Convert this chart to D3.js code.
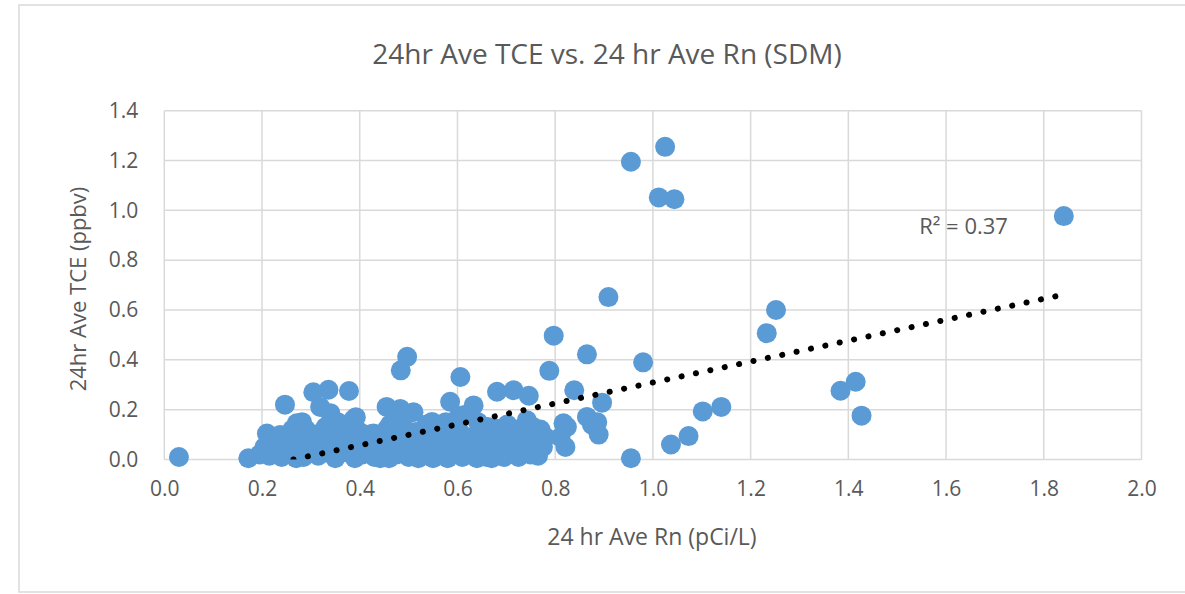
<!DOCTYPE html>
<html>
<head>
<meta charset="utf-8">
<script src="https://cdn.jsdelivr.net/npm/d3@7"></script>
<style>
  body { margin: 0; background: #fff; }
  text { font-family: "Open Sans", sans-serif; fill: #595959; }
</style>
</head>
<body>
<div id="chart"></div>
<script>
// 24 hr ave radon (x) and TCE (y)
var rn = [
  0.03, 0.955, 1.025, 1.012, 1.044, 1.841, 0.909, 0.797, 1.252, 1.233,
  0.865, 0.980, 0.497, 0.484, 0.788, 0.606, 0.839, 0.896, 1.384, 1.415,
  1.427, 1.140, 1.102, 1.073, 1.037, 0.955, 0.247, 0.305, 0.336, 0.378,
  0.319, 0.340, 0.387, 0.271, 0.455, 0.483, 0.510, 0.548, 0.537, 0.585,
  0.633, 0.612, 0.681, 0.715, 0.746, 0.742, 0.763, 0.677, 0.817, 0.821,
  0.811, 0.824, 0.865, 0.875, 0.889, 0.886,
  0.172, 0.195, 0.210, 0.215, 0.225, 0.237, 0.240, 0.255, 0.260, 0.270,
  0.280, 0.290, 0.295, 0.300, 0.310, 0.315, 0.325, 0.330, 0.335, 0.345,
  0.350, 0.355, 0.360, 0.365, 0.370, 0.380, 0.390, 0.395, 0.400, 0.405,
  0.410, 0.415, 0.420, 0.428, 0.430, 0.435, 0.440, 0.450, 0.455, 0.460,
  0.465, 0.470, 0.475, 0.480, 0.485, 0.490, 0.495, 0.500, 0.505, 0.510,
  0.515, 0.520, 0.525, 0.530, 0.540, 0.545, 0.550, 0.555, 0.560, 0.570,
  0.575, 0.580, 0.585, 0.590, 0.600, 0.605, 0.610, 0.615, 0.620, 0.625,
  0.630, 0.635, 0.640, 0.645, 0.650, 0.655, 0.660, 0.665, 0.670, 0.680,
  0.685, 0.690, 0.695, 0.700, 0.705, 0.710, 0.715, 0.720, 0.725, 0.730,
  0.735, 0.740, 0.745, 0.750, 0.755, 0.760, 0.765, 0.770, 0.780,
  0.262, 0.282, 0.392, 0.462, 0.472, 0.576, 0.592, 0.602, 0.642, 0.662,
  0.702, 0.722, 0.232, 0.222, 0.352, 0.372,
  0.205, 0.230, 0.245, 0.265, 0.285, 0.305, 0.320, 0.340, 0.358, 0.375,
  0.385, 0.398, 0.412, 0.425, 0.445, 0.458, 0.468, 0.478, 0.492, 0.503,
  0.518, 0.532, 0.548, 0.562, 0.578, 0.595, 0.608, 0.622, 0.638, 0.652,
  0.668, 0.676, 0.692, 0.708, 0.728, 0.742, 0.758, 0.775, 0.215, 0.285,
  0.442, 0.550, 0.670, 0.750, 0.765
];
var tce = [
  0.010, 1.195, 1.255, 1.052, 1.045, 0.977, 0.652, 0.497, 0.600, 0.507,
  0.422, 0.390, 0.412, 0.358, 0.356, 0.331, 0.278, 0.228, 0.276, 0.312,
  0.176, 0.211, 0.193, 0.094, 0.060, 0.005, 0.220, 0.270, 0.280, 0.275,
  0.211, 0.186, 0.160, 0.145, 0.211, 0.203, 0.190, 0.151, 0.140, 0.232,
  0.217, 0.178, 0.272, 0.278, 0.256, 0.158, 0.118, 0.124, 0.145, 0.050,
  0.090, 0.131, 0.171, 0.140, 0.100, 0.150,
  0.005, 0.020, 0.104, 0.060, 0.030, 0.098, 0.010, 0.070, 0.040, 0.005,
  0.090, 0.120, 0.030, 0.060, 0.100, 0.015, 0.080, 0.130, 0.040, 0.100,
  0.005, 0.150, 0.060, 0.120, 0.030, 0.090, 0.005, 0.050, 0.110, 0.020,
  0.080, 0.040, 0.100, 0.104, 0.010, 0.060, 0.030, 0.090, 0.120, 0.005,
  0.050, 0.075, 0.020, 0.100, 0.040, 0.130, 0.060, 0.010, 0.090, 0.035,
  0.110, 0.005, 0.070, 0.030, 0.090, 0.050, 0.010, 0.075, 0.030, 0.100,
  0.050, 0.005, 0.085, 0.030, 0.060, 0.110, 0.010, 0.040, 0.080, 0.020,
  0.090, 0.050, 0.005, 0.070, 0.030, 0.100, 0.010, 0.060, 0.040, 0.085,
  0.020, 0.065, 0.010, 0.100, 0.040, 0.025, 0.065, 0.080, 0.010, 0.050,
  0.110, 0.030, 0.090, 0.060, 0.130, 0.100, 0.040, 0.120, 0.090,
  0.120, 0.150, 0.170, 0.140, 0.160, 0.150, 0.120, 0.170, 0.150, 0.130,
  0.140, 0.120, 0.070, 0.040, 0.040, 0.070,
  0.050, 0.075, 0.045, 0.090, 0.060, 0.035, 0.050, 0.070, 0.090, 0.060,
  0.120, 0.080, 0.060, 0.040, 0.070, 0.050, 0.100, 0.070, 0.090, 0.050,
  0.060, 0.080, 0.030, 0.060, 0.080, 0.050, 0.080, 0.050, 0.070, 0.060,
  0.090, 0.050, 0.040, 0.080, 0.070, 0.050, 0.070, 0.050, 0.015, 0.010,
  0.005, 0.005, 0.005, 0.020, 0.015
];

var xTicks = [0, 0.2, 0.4, 0.6, 0.8, 1.0, 1.2, 1.4, 1.6, 1.8, 2.0];
var yTicks = [0, 0.2, 0.4, 0.6, 0.8, 1.0, 1.2, 1.4];

// linear trendline
var trendSlope = 0.42;
var trendIntercept = -0.111;
var trendRange = [0.03, 1.83];
var r2Label = "R\u00b2 = 0.37";

var W = 1185, H = 594;
var margin = {top: 110.7, right: 43.5, bottom: 134.5, left: 164.3};
var width = W - margin.left - margin.right,
    height = H - margin.top - margin.bottom;

var svg = d3.select("#chart").append("svg")
    .attr("width", W)
    .attr("height", H);

// chart border
svg.append("rect")
    .attr("x", 19).attr("y", 5)
    .attr("width", W + 10).attr("height", 587)
    .attr("fill", "#fff")
    .attr("stroke", "#d9d9d9")
    .attr("stroke-width", 1.5);

var g = svg.append("g")
    .attr("transform", `translate(${margin.left},${margin.top})`);

var x = d3.scaleLinear().domain([0, 2]).range([0, width]);
var y = d3.scaleLinear().domain([0, 1.4]).range([height, 0]);

// gridlines
g.append("g")
  .selectAll("line")
  .data(xTicks)
  .join("line")
    .attr("x1", d => x(d)).attr("x2", d => x(d))
    .attr("y1", 0).attr("y2", height)
    .attr("stroke", "#d9d9d9")
    .attr("stroke-width", 1.5);

g.append("g")
  .selectAll("line")
  .data(yTicks)
  .join("line")
    .attr("x1", 0).attr("x2", width)
    .attr("y1", d => y(d)).attr("y2", d => y(d))
    .attr("stroke", "#d9d9d9")
    .attr("stroke-width", 1.5);

// axes (labels only)
var xAxis = g.append("g")
    .attr("transform", `translate(0,${height})`)
    .call(d3.axisBottom(x).tickValues(xTicks).tickFormat(d3.format(".1f")).tickSize(0).tickPadding(22));
var yAxis = g.append("g")
    .call(d3.axisLeft(y).tickValues(yTicks).tickFormat(d3.format(".1f")).tickSize(0).tickPadding(26));
[xAxis, yAxis].forEach(function(a) {
  a.select(".domain").remove();
  a.selectAll("text")
    .attr("font-size", 21)
    .attr("font-family", "Open Sans, sans-serif")
    .attr("fill", "#595959");
});

// points
var pts = rn.map(function(d, i) { return {x: d, y: tce[i]}; });
g.append("g")
  .selectAll("circle")
  .data(pts)
  .join("circle")
    .attr("cx", d => x(d.x))
    .attr("cy", d => y(d.y))
    .attr("r", 10)
    .attr("fill", "#5b9bd5");

// dotted trendline, clipped to the plot area
svg.append("clipPath").attr("id", "plotclip")
  .append("rect")
    .attr("x", 0).attr("y", 0)
    .attr("width", width).attr("height", height);

var x0 = Math.max(trendRange[0], -trendIntercept / trendSlope);
g.append("path")
    .datum([x0, trendRange[1]])
    .attr("clip-path", "url(#plotclip)")
    .attr("d", d3.line()
      .x(d => x(d))
      .y(d => y(trendSlope * d + trendIntercept)))
    .attr("fill", "none")
    .attr("stroke", "#000")
    .attr("stroke-width", 6)
    .attr("stroke-linecap", "round")
    .attr("stroke-dasharray", "0.1 14.6");

g.append("text")
    .attr("x", x(1.545))
    .attr("y", y(0.905))
    .attr("font-size", 22)
    .text(r2Label);

// titles
svg.append("text")
    .attr("x", 607)
    .attr("y", 64)
    .attr("text-anchor", "middle")
    .attr("font-size", 28)
    .text("24hr Ave TCE vs. 24 hr Ave Rn (SDM)");

svg.append("text")
    .attr("x", 652)
    .attr("y", 545)
    .attr("text-anchor", "middle")
    .attr("font-size", 23)
    .text("24 hr Ave Rn (pCi/L)");

svg.append("text")
    .attr("transform", "translate(86,289) rotate(-90)")
    .attr("text-anchor", "middle")
    .attr("font-size", 22)
    .text("24hr Ave TCE (ppbv)");
</script>
</body>
</html>
